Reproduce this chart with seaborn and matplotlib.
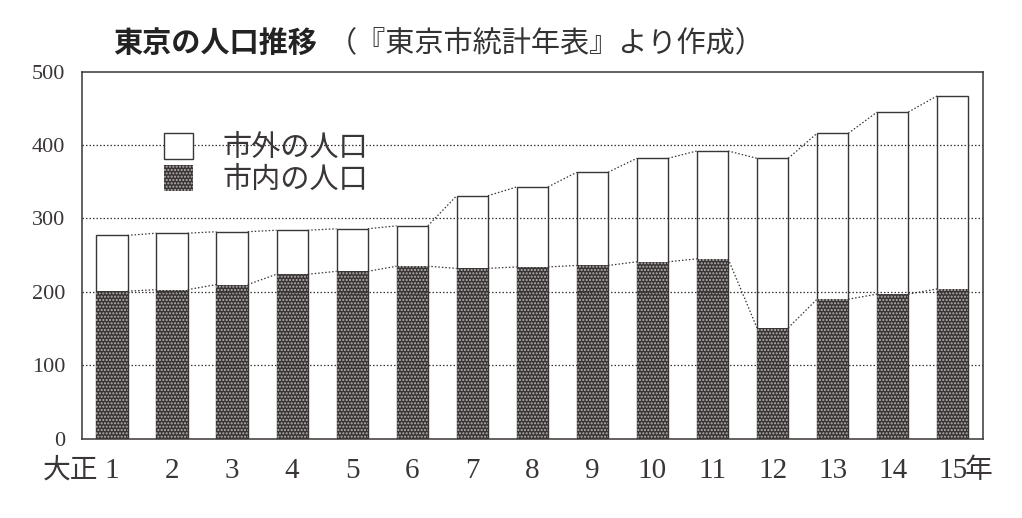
import numpy as np
import pandas as pd
import matplotlib
matplotlib.use("Agg")
import matplotlib.pyplot as plt
import matplotlib.patches as mpatches
import matplotlib.transforms as mtransforms
import seaborn as sns

# 大正1年〜15年 (単位: 万人)
years = ["1", "2", "3", "4", "5", "6", "7", "8", "9", "10", "11", "12", "13", "14", "15"]
inner = [201, 203, 210, 224, 228, 235, 232, 234, 236, 241, 245, 151, 190, 197, 204]   # 市内の人口
outer = [76, 77, 72, 60, 58, 55, 99, 109, 127, 141, 147, 231, 226, 248, 263]        # 市外の人口
yticks = [0, 100, 200, 300, 400, 500]

total = [a + b for a, b in zip(inner, outer)]
df = pd.DataFrame({"year": years, "inner": inner, "total": total})

sns.set_style("white")
plt.rcParams["font.family"] = ["Liberation Serif", "Noto Sans CJK JP", "DejaVu Sans"]
plt.rcParams["hatch.linewidth"] = 1.0

ink = "#3a3636"
bw = 0.52

fig = plt.figure(figsize=(10.22, 5.18), dpi=100)
ax = fig.add_axes([0.0802, 0.1531, 0.8814, 0.7085])

sns.barplot(data=df, x="year", y="total", color="white", width=bw,
            edgecolor=ink, linewidth=1.0, saturation=1, ax=ax)
n = len(ax.patches)
sns.barplot(data=df, x="year", y="inner", color="#3a3535", width=bw,
            edgecolor="#b8b3b3", linewidth=0, saturation=1, ax=ax)
for p in ax.patches[n:]:
    p.set_hatch(".....")

# 棒の上端を結ぶ点線
for vals in (total, inner):
    for i in range(len(vals) - 1):
        ax.plot([i + bw / 2, i + 1 - bw / 2], [vals[i], vals[i + 1]],
                color=ink, linestyle=(0, (1.2, 1.6)), linewidth=0.9, zorder=4)

ax.set_ylim(0, 500)
ax.set_xlim(-0.5, len(years) - 0.5)
ax.set_yticks(yticks)
ax.set_yticklabels([str(v) for v in yticks], fontsize=16, color=ink)
ax.set_xticks(range(len(years)))
ax.set_xticklabels(years, fontsize=21, color=ink)
ax.tick_params(axis="both", length=0)
ax.tick_params(axis="y", pad=12)
ax.tick_params(axis="x", pad=14)
ax.set_xlabel("")
ax.set_ylabel("")

for v in yticks[1:-1]:
    ax.axhline(v, color=ink, linestyle=(0, (1.2, 1.6)), linewidth=0.9, zorder=3)

for s in ax.spines.values():
    s.set_color(ink)
    s.set_linewidth(1.1)
    s.set_visible(True)

trans = mtransforms.blended_transform_factory(ax.transData, ax.transAxes)
ax.text(-0.22, -0.085, "大正", transform=trans, ha="right", va="center",
        fontsize=20, color=ink, family=["Noto Sans CJK JP"])
ax.text(14.2, -0.085, "年", transform=trans, ha="left", va="center",
        fontsize=20, color=ink, family=["Noto Sans CJK JP"])

handles = [
    mpatches.Patch(facecolor="white", edgecolor=ink, linewidth=1.0, label="市外の人口"),
    mpatches.Patch(facecolor="#3a3535", edgecolor="#b8b3b3", linewidth=0, hatch=".....", label="市内の人口"),
]
ax.legend(handles=handles, loc="upper left", bbox_to_anchor=(0.062, 0.905), frameon=False,
          handlelength=1.0, handleheight=1.0, handletextpad=1.0, labelspacing=0.08,
          prop={"family": "Noto Sans CJK JP", "size": 21}, labelcolor=ink)

fig.text(113 / 1022, 1 - 43 / 518, "東京の人口推移", ha="left", va="center",
         fontsize=21, fontweight="bold", color="#222", family=["Noto Sans CJK JP"])
fig.text(328 / 1022, 1 - 43 / 518, "（『東京市統計年表』より作成）", ha="left", va="center",
         fontsize=21, color="#333", family=["Noto Sans CJK JP"])

fig.savefig("out.png", dpi=100, facecolor="white")
